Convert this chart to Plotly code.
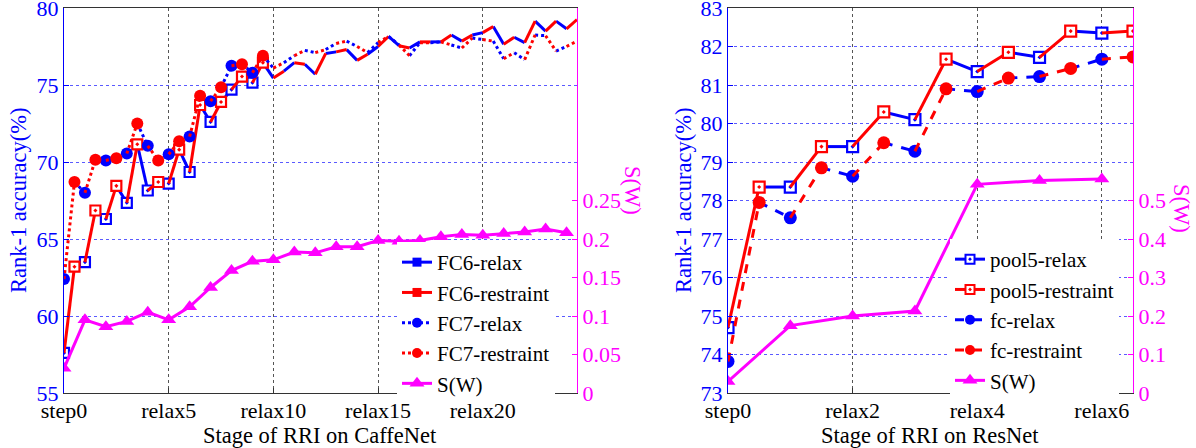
import plotly.graph_objects as go

# ---------------- data ----------------
# CaffeNet: values every half stage (step0, restraint, relax1, restraint, relax2, ...)
caffe_fc6 = [57.6, 63.2, 63.5, 66.85, 66.3, 68.45, 67.35, 71.15, 68.15, 68.7,
             68.6, 70.8, 69.35, 73.7, 72.6, 73.9, 74.7, 75.55, 75.15, 76.45,
             75.45, 75.9, 76.45, 76.35, 75.7, 77.05, 77.15, 77.3, 76.6, 77.0,
             77.5, 78.15, 77.55, 77.4, 77.8, 77.8, 77.8, 78.25, 77.85, 78.25,
             78.4, 78.8, 77.65, 78.1, 77.75, 79.15, 78.5, 79.15, 78.65, 79.25]
caffe_fc7 = [62.4, 68.7, 68.0, 70.15, 70.1, 70.25, 70.55, 72.5, 71.05, 70.1,
             70.5, 71.35, 71.65, 74.3, 73.95, 74.85, 76.25, 76.35, 75.8, 76.9,
             76.1, 76.45, 76.9, 77.25, 77.1, 77.3, 77.7, 77.85, 77.5, 77.1,
             77.75, 78.15, 77.6, 76.9, 77.75, 77.75, 77.8, 77.6, 77.4, 78.05,
             77.95, 77.85, 76.7, 77.1, 76.65, 78.25, 78.2, 77.2, 77.5, 77.85]
caffe_sw = [0.032, 0.095, 0.086, 0.093, 0.105, 0.095, 0.112, 0.137, 0.159, 0.171,
            0.173, 0.183, 0.182, 0.19, 0.19, 0.198, 0.197, 0.198, 0.203, 0.206,
            0.205, 0.207, 0.209, 0.213, 0.208]
caffe_marked_points = 20
caffe_tickvals = [0, 5, 10, 15, 20]
caffe_ticktext = ["step0", "relax5", "relax10", "relax15", "relax20"]
caffe_y2_tickvals = [0, 0.05, 0.1, 0.15, 0.2, 0.25]
caffe_y2_ticktext = ["0", "0.05", "0.1", "0.15", "0.2", "0.25"]

# ResNet
resnet_pool5 = [74.7, 78.35, 78.35, 79.4, 79.4, 80.3, 80.1, 81.67, 81.35, 81.85,
                81.72, 82.4, 82.35, 82.4]
resnet_fc = [73.82, 77.95, 77.55, 78.85, 78.63, 79.5, 79.28, 80.9, 80.83, 81.18,
             81.22, 81.43, 81.67, 81.73]
resnet_sw = [0.03, 0.175, 0.2, 0.213, 0.542, 0.552, 0.556]
resnet_tickvals = [0, 2, 4, 6]
resnet_ticktext = ["step0", "relax2", "relax4", "relax6"]
resnet_y2_tickvals = [0, 0.1, 0.2, 0.3, 0.4, 0.5]
resnet_y2_ticktext = ["0", "0.1", "0.2", "0.3", "0.4", "0.5"]

# ---------------- style ----------------
BLUE = "#0000ff"
RED = "#ff0000"
MAG = "#ff00ff"
FONT = "Liberation Serif, Times New Roman, serif"
FS = 22
FS_TITLE = 22.5
FS_LEGEND = 21
W, H = 1196, 448


def fx(p):
    return p / W


def fy(p):
    return 1 - p / H


def half_steps(n):
    return [i * 0.5 for i in range(n)]


def segments(xs, ys, end_parity):
    X, Y = [], []
    for i in range(1, len(xs)):
        if i % 2 == end_parity:
            X += [xs[i - 1], xs[i], None]
            Y += [ys[i - 1], ys[i], None]
    return X, Y


fig = go.Figure()


def add_pair(values, nmark, xa, ya, dash, symbol, size, hollow, names, legend, legend_hollow):
    xs = half_steps(len(values))
    for parity, color, name in [(0, BLUE, names[0]), (1, RED, names[1])]:
        X, Y = segments(xs, values, parity)
        fig.add_trace(go.Scatter(x=X, y=Y, mode="lines", xaxis=xa, yaxis=ya,
                                 line=dict(color=color, width=3, dash=dash),
                                 showlegend=False, hoverinfo="skip"))
        mx = [xs[i] for i in range(min(nmark, len(xs))) if i % 2 == parity]
        my = [values[i] for i in range(min(nmark, len(xs))) if i % 2 == parity]
        if hollow:
            mk = dict(symbol=symbol, size=size, color="white", line=dict(color=color, width=2.2))
        else:
            mk = dict(symbol=symbol, size=size, color=color, line=dict(width=0))
        fig.add_trace(go.Scatter(x=mx, y=my, mode="markers", xaxis=xa, yaxis=ya,
                                 marker=mk, showlegend=False))
        if legend_hollow:
            lmk = dict(symbol=symbol, size=9, color="white", line=dict(color=color, width=2))
        elif hollow:
            lmk = dict(symbol="square", size=9, color=color, line=dict(width=0))
        else:
            lmk = dict(symbol=symbol, size=10, color=color, line=dict(width=0))
        fig.add_trace(go.Scatter(x=[None], y=[None], mode="lines+markers", name=name,
                                 xaxis=xa, yaxis=ya, legend=legend,
                                 line=dict(color=color, width=3, dash=dash), marker=lmk))


def add_sw(values, xa, ya, legend):
    xs = list(range(len(values)))
    fig.add_trace(go.Scatter(x=xs, y=values, mode="lines+markers", name="S(W)",
                             xaxis=xa, yaxis=ya, legend=legend,
                             line=dict(color=MAG, width=3),
                             marker=dict(symbol="triangle-up", size=13, color=MAG)))


# CaffeNet panel
add_pair(caffe_fc6, caffe_marked_points, "x", "y", "solid", "square-dot", 10, True,
         ["FC6-relax", "FC6-restraint"], "legend", False)
add_pair(caffe_fc7, caffe_marked_points, "x", "y", "dot", "circle", 12, False,
         ["FC7-relax", "FC7-restraint"], "legend", False)
add_sw(caffe_sw, "x", "y2", "legend")

# ResNet panel
add_pair(resnet_pool5, len(resnet_pool5), "x2", "y3", "solid", "square-dot", 11, True,
         ["pool5-relax", "pool5-restraint"], "legend2", True)
add_pair(resnet_fc, len(resnet_fc), "x2", "y3", "dash", "circle", 13, False,
         ["fc-relax", "fc-restraint"], "legend2", False)
add_sw(resnet_sw, "x2", "y4", "legend2")

ydom = [fy(393), fy(8)]
tickfont_black = dict(family=FONT, size=FS, color="black")
tickfont_blue = dict(family=FONT, size=FS, color=BLUE)
tickfont_mag = dict(family=FONT, size=FS, color=MAG)

xcommon = dict(showline=True, linecolor="#333333", linewidth=1.2, mirror=True,
               ticks="inside", ticklen=5, tickcolor="#333333",
               showgrid=True, gridcolor="#555555", griddash="dot", gridwidth=1,
               zeroline=False, tickfont=tickfont_black, tickmode="array",
               automargin=False, ticklabeloverflow="allow", ticklabelstandoff=-3)
y1common = dict(showline=True, linecolor=BLUE, linewidth=1.2,
                ticks="inside", ticklen=5, tickcolor=BLUE,
                showgrid=True, gridcolor="#5a5aff", griddash="dot", gridwidth=1,
                zeroline=False, tickfont=tickfont_blue, domain=ydom,
                automargin=False, ticklabeloverflow="allow")
y2common = dict(showline=True, linecolor=MAG, linewidth=1.2, side="right",
                ticks="inside", ticklen=5, tickcolor=MAG, showgrid=False,
                zeroline=False, tickfont=tickfont_mag, tickmode="array",
                automargin=False, ticklabeloverflow="allow")

legend_font = dict(family=FONT, size=FS_LEGEND, color="black")
fig.update_layout(
    width=W, height=H,
    margin=dict(l=0, r=0, t=0, b=0),
    paper_bgcolor="white", plot_bgcolor="white",
    font=dict(family=FONT, size=FS, color="black"),
    xaxis=dict(domain=[fx(64), fx(577)], range=[0, 24.5], tickvals=caffe_tickvals,
               ticktext=caffe_ticktext, anchor="y", **xcommon),
    yaxis=dict(range=[55, 80], dtick=5, anchor="x", **y1common),
    yaxis2=dict(range=[0, 0.5], tickvals=caffe_y2_tickvals, ticktext=caffe_y2_ticktext,
                overlaying="y", anchor="x", **y2common),
    xaxis2=dict(domain=[fx(728), fx(1133)], range=[0, 6.5], tickvals=resnet_tickvals,
                ticktext=resnet_ticktext, anchor="y3", **xcommon),
    yaxis3=dict(range=[73, 83], dtick=1, anchor="x2", **y1common),
    yaxis4=dict(range=[0, 1.0], tickvals=resnet_y2_tickvals, ticktext=resnet_y2_ticktext,
                overlaying="y3", anchor="x2", **y2common),
    legend=dict(x=fx(397), y=fy(242), xanchor="left", yanchor="top",
                bgcolor="white", borderwidth=0, font=legend_font,
                tracegroupgap=0, itemwidth=30),
    legend2=dict(x=fx(950), y=fy(239), xanchor="left", yanchor="top",
                 bgcolor="white", borderwidth=0, font=legend_font,
                 tracegroupgap=0, itemwidth=30),
    showlegend=True,
)

annots = [
    dict(text="Stage of RRI on CaffeNet", x=fx(320), y=fy(435), color="black", angle=0),
    dict(text="Stage of RRI on ResNet", x=fx(930), y=fy(435), color="black", angle=0),
    dict(text="Rank-1 accuracy(%)", x=fx(18), y=fy(200), color=BLUE, angle=-90),
    dict(text="Rank-1 accuracy(%)", x=fx(683), y=fy(200), color=BLUE, angle=-90),
    dict(text="S(W)", x=fx(632), y=fy(190), color=MAG, angle=90),
    dict(text="S(W)", x=fx(1182), y=fy(208), color=MAG, angle=90),
]
for a in annots:
    fig.add_annotation(text=a["text"], x=a["x"], y=a["y"], xref="paper", yref="paper",
                       xanchor="center", yanchor="middle", showarrow=False,
                       textangle=a["angle"], font=dict(family=FONT, size=FS_TITLE, color=a["color"]))

fig.write_html("out.html", config={"displayModeBar": False},
               post_script="document.body.style.margin='0';")
